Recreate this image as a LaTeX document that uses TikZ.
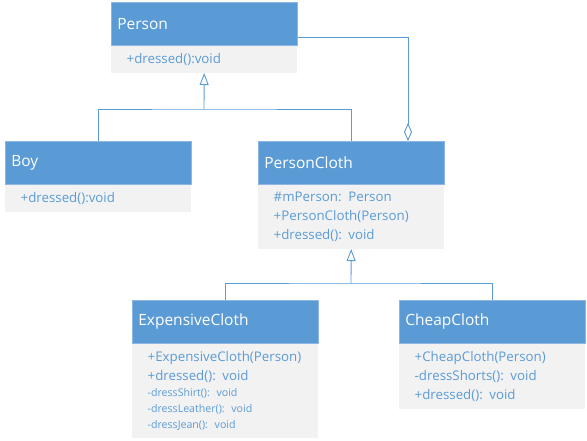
\documentclass[tikz,border=0pt]{standalone}
\usepackage{fontspec}
\setmainfont{Open Sans}
\usetikzlibrary{arrows.meta}
\definecolor{headblue}{HTML}{5B9BD5}
\definecolor{headedge}{HTML}{8DB6E2}
\definecolor{bodygray}{HTML}{F2F2F2}
\definecolor{memberblue}{HTML}{5B9BD5}
\definecolor{lineblue}{HTML}{5B9BD5}
\newcommand{\bigmember}{\fontsize{13.3}{18.8}\selectfont}
\newcommand{\smallmember}{\fontsize{10.6}{12}\selectfont}

\begin{document}
\begin{tikzpicture}[x=1pt,y=-1pt,
	classhead/.style={draw=headedge, line width=0.6pt, fill=headblue, text=white,
		font=\fontsize{15.5}{18}\selectfont, anchor=north west, minimum height=43pt,
		inner xsep=6pt, text width=174pt, align=left},
	classbody/.style={fill=bodygray, text=memberblue, font=\bigmember,
		anchor=north west, inner xsep=15.5pt, text width=155pt, align=left},
	umlline/.style={draw=lineblue, line width=0.9pt},
	inherit/.style={umlline, -{Triangle[open, length=12pt, width=9pt]}},
	aggreg/.style={umlline, -{Diamond[open, length=18pt, width=8pt]}}]
		\useasboundingbox (0,0) rectangle (587,441);

		% Class boxes: a blue head and a grey body below it
		\node[classhead] (personhead) at (111,2) {Person};
		\node[classbody, minimum height=27pt] (personbody) at (personhead.south west) {+dressed():void};

		\node[classhead] (boyhead) at (5,141) {Boy};
		\node[classbody, minimum height=27pt] (boybody) at (boyhead.south west) {+dressed():void};

		\node[classhead] (clothhead) at (258,141) {PersonCloth};
		\node[classbody, minimum height=64pt] (clothbody) at (clothhead.south west)
			{\#mPerson: Person\\+PersonCloth(Person)\\+dressed(): void};

		\node[classhead] (expenshead) at (132,300) {ExpensiveCloth};
		\node[classbody, minimum height=94pt] (expensbody) at (expenshead.south west)
			{+ExpensiveCloth(Person)\\+dressed(): void\\[-2pt]{\smallmember -dressShirt(): void}\\[-3pt]%
			{\smallmember -dressLeather(): void}\\[-3pt]{\smallmember -dressJean(): void}};

		\node[classhead] (cheaphead) at (399,300) {CheapCloth};
		\node[classbody, minimum height=65pt] (cheapbody) at (cheaphead.south west)
			{+CheapCloth(Person)\\-dressShorts(): void\\+dressed(): void};

		% Joints of the connectors
		\coordinate (upperjoint) at (204,109);
		\coordinate (lowerjoint) at (351,283);
		\coordinate (aggturn)    at (408,37);

		% Inheritance
		\draw[umlline] (boyhead.north) |- (upperjoint) -| (clothhead.north);
		\draw[inherit] (upperjoint) -- (personbody.south);
		\draw[umlline] (expenshead.north) |- (lowerjoint) -| (cheaphead.north);
		\draw[inherit] (lowerjoint) -- (clothbody.south);

		% Aggregation of the person in the cloth
		\draw[aggreg] (personhead.east |- aggturn) -- (aggturn) -- (aggturn |- clothhead.north);
	\end{tikzpicture}
\end{document}
